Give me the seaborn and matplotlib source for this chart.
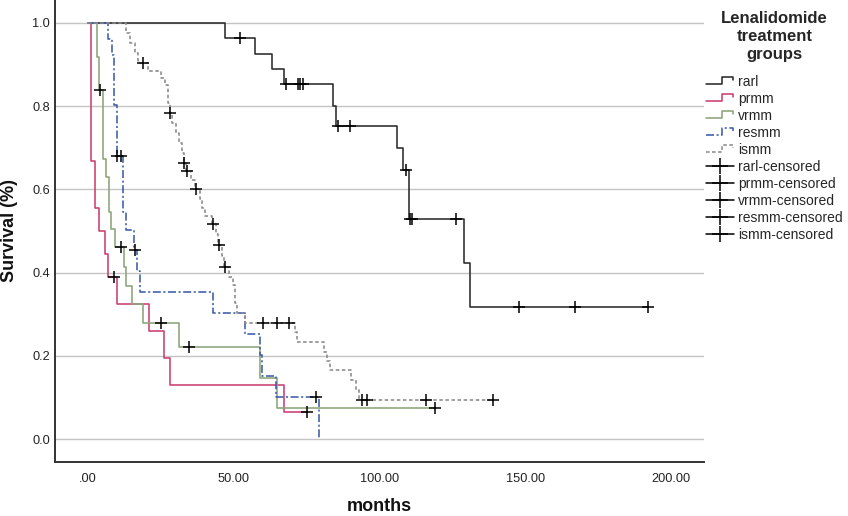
import numpy as np
import pandas as pd
import matplotlib
matplotlib.use("Agg")
import matplotlib.pyplot as plt
import seaborn as sns
from matplotlib.lines import Line2D
from matplotlib.legend_handler import HandlerLine2D

# ---------------- data ----------------
groups = ["rarl", "prmm", "vrmm", "resmm", "ismm"]

rarl_times = [0, 47.0, 57.2, 63.2, 67.2, 84.0, 85.2, 105.9, 108.2, 110.0, 129.1, 131.2]
rarl_surv = [1.0, 0.963, 0.926, 0.889, 0.852, 0.800, 0.753, 0.700, 0.646, 0.529, 0.424, 0.317]
rarl_censored = [52.0, 68.0, 72.0, 72.8, 73.7, 85.8, 90.0, 109.0, 110.4, 111.2, 126.3, 148.0, 167.0, 192.2]

prmm_times = [0, 0.9, 2.4, 3.9, 5.9, 6.9, 9.8, 20.9, 26.0, 28.1, 67.1]
prmm_surv = [1.0, 0.667, 0.556, 0.500, 0.445, 0.389, 0.324, 0.259, 0.194, 0.130, 0.065]
prmm_censored = [8.9, 75.1]

vrmm_times = [0, 3.0, 3.8, 5.0, 6.2, 7.2, 8.0, 9.2, 12.3, 13.0, 15.0, 18.9, 31.2, 58.9, 65.0]
vrmm_surv = [1.0, 0.919, 0.839, 0.672, 0.630, 0.546, 0.504, 0.462, 0.414, 0.369, 0.324, 0.278, 0.222, 0.148, 0.074]
vrmm_censored = [4.1, 11.2, 25.0, 34.6, 119.2]

resmm_times = [0, 7.0, 8.1, 9.0, 9.8, 11.9, 13.2, 15.8, 16.9, 17.8, 42.9, 53.8, 58.9, 59.8, 64.6, 79.2]
resmm_surv = [1.0, 0.961, 0.922, 0.803, 0.680, 0.546, 0.502, 0.454, 0.404, 0.354, 0.303, 0.253, 0.202, 0.152, 0.101, 0.0]
resmm_censored = [10.0, 11.2, 16.1, 78.2]

ismm_times = [0, 13.0, 14.5, 16.0, 17.3, 20.6, 25.2, 26.6, 27.3, 27.6, 28.0, 29.0, 30.2, 31.3, 32.4,
              32.8, 33.8, 35.5, 36.8, 38.6, 39.0, 40.2, 42.5, 44.0, 44.6, 46.0, 46.8, 48.4, 49.6, 50.5,
              51.0, 54.0, 71.0, 71.6, 80.8, 82.0, 83.0, 90.3, 91.8, 92.9]
ismm_surv = [1.0, 0.976, 0.952, 0.928, 0.904, 0.885, 0.868, 0.851, 0.833, 0.807, 0.783, 0.759, 0.735, 0.711, 0.687,
             0.663, 0.645, 0.622, 0.600, 0.578, 0.556, 0.536, 0.517, 0.492, 0.466, 0.440, 0.413, 0.390, 0.370, 0.326,
             0.302, 0.280, 0.257, 0.234, 0.210, 0.188, 0.166, 0.142, 0.118, 0.094]
ismm_censored = [18.9, 28.1, 33.0, 34.0, 37.2, 43.0, 44.9, 47.1, 60.0, 64.8, 69.0, 94.1, 95.7, 116.0, 139.0]

x_ticks = [0, 50, 100, 150, 200]
x_tick_labels = [".00", "50.00", "100.00", "150.00", "200.00"]
y_ticks = [0.0, 0.2, 0.4, 0.6, 0.8, 1.0]
y_tick_labels = ["0.0", "0.2", "0.4", "0.6", "0.8", "1.0"]

# ---------------- styles ----------------
colors = {"rarl": "#2b2b2b", "prmm": "#cc3f72", "vrmm": "#8ca47a",
          "resmm": "#3b5ca8", "ismm": "#8a8a8a"}
linestyles = {"rarl": "-", "prmm": "-", "vrmm": "-",
              "resmm": (0, (5, 1.6, 1.3, 1.6)), "ismm": (0, (2.2, 1.6))}

series = {
    "rarl": (rarl_times, rarl_surv, rarl_censored),
    "prmm": (prmm_times, prmm_surv, prmm_censored),
    "vrmm": (vrmm_times, vrmm_surv, vrmm_censored),
    "resmm": (resmm_times, resmm_surv, resmm_censored),
    "ismm": (ismm_times, ismm_surv, ismm_censored),
}

sns.set_theme(style="white")
plt.rcParams["font.family"] = ["Liberation Sans", "DejaVu Sans"]

fig = plt.figure(figsize=(8.48, 5.16), dpi=100)
ax = fig.add_axes([55 / 848, 1 - 462 / 516, (704 - 55) / 848, 462 / 516])

line_rows = []
cens_rows = []
for g in groups:
    t, s, c = series[g]
    t = np.asarray(t, float)
    s = np.asarray(s, float)
    end = max(t[-1], max(c))
    tt = list(t) + ([end] if end > t[-1] else [])
    ss = list(s) + ([s[-1]] if end > t[-1] else [])
    for a, b in zip(tt, ss):
        line_rows.append({"group": g, "months": a, "survival": b})
    idx = np.searchsorted(t, np.asarray(c), side="right") - 1
    for a, b in zip(c, s[idx]):
        cens_rows.append({"group": g, "months": a, "survival": b})

lines_df = pd.DataFrame(line_rows)
cens_df = pd.DataFrame(cens_rows)

for g in groups:
    sub = lines_df[lines_df["group"] == g]
    sns.lineplot(data=sub, x="months", y="survival", ax=ax, estimator=None, sort=False,
                 drawstyle="steps-post", color=colors[g], linestyle=linestyles[g],
                 linewidth=1.15, legend=False, zorder=3)

sns.scatterplot(data=cens_df, x="months", y="survival", ax=ax, marker="+", s=75,
                color="black", linewidth=1.1, legend=False, zorder=4)

ax.set_xlim(-11.3, 211.3)
ax.set_ylim(-0.055, 1.055)
ax.set_xticks(x_ticks)
ax.set_xticklabels(x_tick_labels)
ax.set_yticks(y_ticks)
ax.set_yticklabels(y_tick_labels)
ax.tick_params(axis="both", length=0, labelsize=9.2, colors="#222222")
ax.tick_params(axis="x", pad=8)
ax.tick_params(axis="y", pad=3.5)
ax.yaxis.grid(True, color="#c4c4c4", linewidth=1.0)
ax.xaxis.grid(False)
ax.set_axisbelow(True)
for sp in ["top", "right"]:
    ax.spines[sp].set_visible(False)
for sp in ["left", "bottom"]:
    ax.spines[sp].set_color("#333333")
    ax.spines[sp].set_linewidth(1.4)

ax.set_xlabel("months", fontsize=13, fontweight="bold", labelpad=9, color="#111111")
ax.set_ylabel("Survival (%)", fontsize=13, fontweight="bold", labelpad=10, color="#111111")


class StepHandler(HandlerLine2D):
    def create_artists(self, legend, orig_handle, xdescent, ydescent, width, height, fontsize, trans):
        x0 = -xdescent
        y0 = -ydescent
        xs = [x0, x0 + width * 0.58, x0 + width * 0.58, x0 + width * 0.97, x0 + width * 0.97]
        ys = [y0 + height * 0.15, y0 + height * 0.15, y0 + height * 0.85, y0 + height * 0.85, y0 + height * 0.55]
        line = Line2D(xs, ys)
        self.update_prop(line, orig_handle, legend)
        line.set_marker("None")
        line.set_transform(trans)
        return [line]


handles = []
labels = []
handler_map = {}
for g in groups:
    h = Line2D([], [], color=colors[g], linestyle=linestyles[g], linewidth=1.15)
    handles.append(h)
    labels.append(g)
    handler_map[h] = StepHandler()
for g in groups:
    h = Line2D([], [], color="black", linestyle="-", linewidth=1.1, marker="+",
               markersize=11, markeredgewidth=1.1)
    handles.append(h)
    labels.append(g + "-censored")

leg = fig.legend(handles, labels, handler_map=handler_map, loc="upper left",
                 bbox_to_anchor=(706 / 848, 1 - 11 / 516), frameon=False, borderpad=0,
                 borderaxespad=0, handlelength=2.0, handletextpad=0.3, labelspacing=0.22,
                 numpoints=1, fontsize=10, title="Lenalidomide\ntreatment\ngroups",
                 title_fontproperties={"weight": "bold", "size": 12})
leg.get_title().set_multialignment("center")
leg.get_title().set_linespacing(1.25)
leg._legend_box.sep = 9

fig.savefig("out.png", dpi=100)
